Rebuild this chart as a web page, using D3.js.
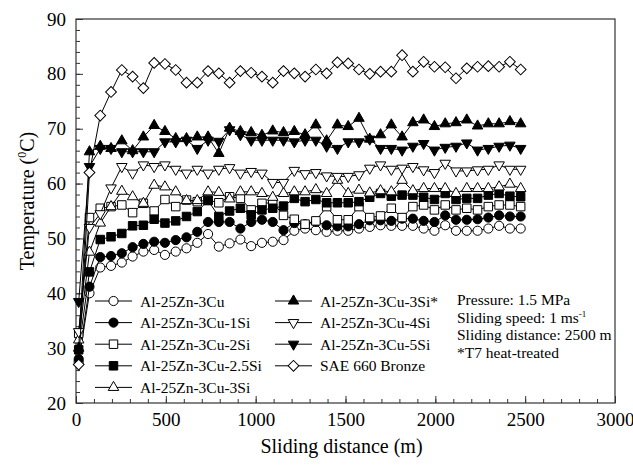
<!DOCTYPE html>
<html>
<head>
<meta charset="utf-8">
<script src="https://cdn.jsdelivr.net/npm/d3@7"></script>
<style>
  body { margin: 0; background: #fff; }
  svg text { font-family: "Liberation Serif", "Times New Roman", serif; fill: #000; }
</style>
</head>
<body>
<svg id="chart" width="633" height="465"></svg>
<script>
// sliding distance of each reading (m), one reading a minute at 1 m/s
var distances = d3.range(42).map(function(i) { return 15 + 60 * i; });

var seriesNames = ["Al-25Zn-3Cu", "Al-25Zn-3Cu-1Si", "Al-25Zn-3Cu-2Si", "Al-25Zn-3Cu-2.5Si",
  "Al-25Zn-3Cu-3Si", "Al-25Zn-3Cu-3Si*", "Al-25Zn-3Cu-4Si", "Al-25Zn-3Cu-5Si", "SAE 660 Bronze"];

var tempCu = [27.5, 40, 44.7, 45, 45.6, 46.7, 47.6, 47.9, 47, 47.6, 48.2, 49.2, 50.8, 48.5, 49.1, 49.8, 48.6, 49.2, 49.4, 49.7, 51.4,
  51.8, 51.5, 51.2, 51.4, 51.4, 51.8, 52.1, 52.4, 52.3, 52.3, 52.3, 51.8, 51.4, 52.4, 51.4, 51.4, 51.4, 51.8, 52.3, 51.8, 51.8];
var temp1Si = [28, 41.2, 46.6, 46.8, 47.3, 48.4, 49, 49.4, 49.2, 49.7, 50.2, 51.2, 53, 53, 53, 51.8, 53, 53.4, 53, 51.5, 52.8,
  52.6, 53, 52.4, 52.2, 52.2, 52.6, 53.3, 53.3, 53.2, 53.6, 53.6, 53.2, 53, 54.2, 53.4, 53.4, 53.5, 53.8, 54.2, 54, 54];
var temp2Si = [32.7, 53.8, 55.5, 55.8, 56.1, 54.7, 56.4, 55, 57.1, 55.8, 57, 56.7, 57, 56.5, 57.6, 57.3, 55.2, 56.4, 56.5, 54.2, 53.5,
  52.6, 53.2, 55.8, 53.4, 53.4, 55.8, 53.8, 54.1, 55.5, 53.8, 55.8, 56.1, 55.2, 56.1, 55.2, 55.5, 55.2, 55.8, 56.1, 56.1, 55.8];
var temp25Si = [29.7, 43.9, 49.8, 50.3, 50.9, 52.3, 52.4, 53.5, 52.8, 53.2, 54, 54.9, 56.9, 54, 55, 55.5, 54.3, 55.2, 55.5, 55.9, 57.3,
  56.7, 57.1, 56.5, 56.5, 56.5, 56.7, 57.5, 58.2, 57.7, 57.9, 57.9, 57.5, 57.1, 58.2, 57.1, 57.3, 57.3, 57.9, 58.2, 57.7, 57.6];
var temp3Si = [31.5, 47.5, 52.8, 55.8, 58.6, 57.6, 56.4, 59.7, 59.4, 58.5, 56.9, 56.9, 58.5, 58.4, 57.2, 58.5, 58.5, 58.2, 57.5, 58.2, 58.5,
  58.5, 58.9, 58.2, 60.6, 58.2, 58.8, 58.3, 58.7, 58.5, 60.6, 58.7, 59.1, 59.1, 59.1, 58.2, 59.1, 59.1, 59.1, 59.4, 59.9, 59.1];
var temp3SiT7 = [30, 65.8, 66.8, 66.4, 67.8, 66, 68.5, 70.6, 69.5, 68.2, 68.2, 68.5, 68.5, 65.5, 70.1, 69.5, 69.3, 68.8, 69.6, 69.3, 69.5,
  68.9, 70.7, 67.8, 70.7, 70.4, 71.9, 68.1, 68.9, 70.7, 68.5, 71.1, 71.6, 70.4, 70.9, 71.1, 71.6, 70.5, 70.9, 70.9, 71.3, 70.9];
var temp4Si = [33, 52, 54.5, 59.2, 63.1, 61.9, 63.4, 63.1, 63.4, 62.6, 61.9, 62.6, 61.9, 62.6, 62.9, 61.9, 62.2, 61.9, 60.2, 60.2, 62.4,
  61.8, 62, 61.4, 61.3, 61.3, 61.6, 62.8, 63.4, 62.6, 62.8, 63.1, 62.5, 62, 63.7, 62.3, 62.3, 62.5, 62.6, 63.4, 62.6, 62.6];
var temp5Si = [38.5, 63.1, 66.4, 66.4, 65.8, 65.8, 65.8, 65.8, 67.6, 67.6, 67.9, 66.4, 67.9, 67.7, 69.8, 68.9, 67.9, 67.9, 67.9, 67.9, 67.6,
  67.9, 67.9, 66.8, 66.4, 67.6, 67.6, 68.1, 66.4, 66.4, 66.1, 66.8, 67.3, 66.1, 66.6, 66.8, 67.4, 66.1, 66.4, 66.8, 67, 66.4];
var tempBronze = [27, 62, 72.4, 76.7, 80.7, 79.5, 77.4, 82, 81.8, 80.7, 78.4, 78.4, 80.5, 80.1, 78.4, 80.5, 80.2, 79.5, 78.4, 80.5, 80.1,
  79.5, 80.8, 80.1, 82.1, 81.9, 80.8, 80, 80.4, 80.4, 83.4, 80.4, 82.2, 81.3, 81.2, 79.2, 81, 81.3, 81.4, 81.3, 82.2, 80.8];

var xTicks = [0, 500, 1000, 1500, 2000, 2500, 3000];
var yTicks = [20, 30, 40, 50, 60, 70, 80, 90];
var notes = ["Pressure: 1.5 MPa", "Sliding speed: 1 ms", "Sliding distance: 2500 m", "*T7 heat-treated"];

var allTemps = [tempCu, temp1Si, temp2Si, temp25Si, temp3Si, temp3SiT7, temp4Si, temp5Si, tempBronze];
var markers = [
  { type: d3.symbolCircle, size: 66, fill: "#fff", rot: 0 },
  { type: d3.symbolCircle, size: 66, fill: "#000", rot: 0 },
  { type: d3.symbolSquare, size: 72, fill: "#fff", rot: 0 },
  { type: d3.symbolSquare, size: 72, fill: "#000", rot: 0 },
  { type: d3.symbolTriangle, size: 48, fill: "#fff", rot: 0 },
  { type: d3.symbolTriangle, size: 48, fill: "#000", rot: 0 },
  { type: d3.symbolTriangle, size: 48, fill: "#fff", rot: 180 },
  { type: d3.symbolTriangle, size: 48, fill: "#000", rot: 180 },
  { type: d3.symbolSquare, size: 58, fill: "#fff", rot: 45 }
];

var margin = { left: 76, top: 19, right: 18, bottom: 62 };
var svg = d3.select("#chart");
var w = 633 - margin.left - margin.right;
var h = 465 - margin.top - margin.bottom;

var x = d3.scaleLinear().domain([0, 3000]).range([0, w]);
var y = d3.scaleLinear().domain([20, 90]).range([h, 0]);

var g = svg.append("g").attr("transform", "translate(" + margin.left + "," + margin.top + ")");

// frame
g.append("rect").attr("width", w).attr("height", h)
  .attr("fill", "none").attr("stroke", "#333").attr("stroke-width", 1.2);

// inward ticks
var xAxis = g.append("g").attr("transform", "translate(0," + h + ")")
  .call(d3.axisBottom(x).tickValues(d3.range(0, 3001, 100)).tickSize(-4).tickFormat(""));
var xMajor = g.append("g").attr("transform", "translate(0," + h + ")")
  .call(d3.axisBottom(x).tickValues(xTicks).tickSize(-7).tickPadding(10).tickFormat(d3.format("d")));
var yAxis = g.append("g")
  .call(d3.axisLeft(y).tickValues(d3.range(20, 91, 2)).tickSize(-4).tickFormat(""));
var yMajor = g.append("g")
  .call(d3.axisLeft(y).tickValues(yTicks).tickSize(-7).tickPadding(10).tickFormat(d3.format("d")));

[xAxis, xMajor, yAxis, yMajor].forEach(function(a) {
  a.select(".domain").remove();
  a.selectAll("line").attr("stroke", "#333");
  a.selectAll("text").attr("font-size", 19).attr("font-family", "Liberation Serif").attr("fill", "#000");
});

function symbolPath(m) {
  return d3.symbol().type(m.type).size(m.size)();
}

var line = d3.line()
  .x(function(d) { return x(d[0]); })
  .y(function(d) { return y(d[1]); });

allTemps.forEach(function(temps, k) {
  var pts = distances.map(function(d, i) { return [d, temps[i]]; });
  var m = markers[k];
  var s = g.append("g");
  s.append("path").datum(pts).attr("d", line)
    .attr("fill", "none").attr("stroke", "#000").attr("stroke-width", 1);
  s.selectAll("path.pt").data(pts).enter().append("path")
    .attr("class", "pt")
    .attr("d", symbolPath(m))
    .attr("transform", function(d) { return "translate(" + x(d[0]) + "," + y(d[1]) + ") rotate(" + m.rot + ")"; })
    .attr("fill", m.fill).attr("stroke", "#000").attr("stroke-width", 1);
});

// legend, two columns
var legend = svg.append("g");
seriesNames.forEach(function(name, k) {
  var col = k < 5 ? 0 : 1;
  var row = k < 5 ? k : k - 5;
  var lx = col === 0 ? 95 : 275;
  var ly = 301 + row * 21.6;
  var m = markers[k];
  var item = legend.append("g").attr("transform", "translate(" + lx + "," + ly + ")");
  item.append("line").attr("x1", 0).attr("x2", 37).attr("y1", 0).attr("y2", 0)
    .attr("stroke", "#000").attr("stroke-width", 1);
  item.append("path").attr("d", symbolPath(m))
    .attr("transform", "translate(18.5,0) rotate(" + m.rot + ")")
    .attr("fill", m.fill).attr("stroke", "#000");
  item.append("text").attr("x", 45).attr("y", 5.5).attr("font-size", 15.5).text(name);
});

// test conditions
var noteG = svg.append("g");
notes.forEach(function(t, i) {
  var tx = noteG.append("text").attr("x", 457).attr("y", 305 + i * 17.5).attr("font-size", 15.5).text(t);
  if (i === 1) {
    tx.append("tspan").attr("dy", -6).attr("font-size", 9).text("-1");
  }
});

// axis titles
svg.append("text").attr("x", margin.left + w / 2 - 4).attr("y", 453)
  .attr("text-anchor", "middle").attr("font-size", 20).text("Sliding distance (m)");

var yt = svg.append("text").attr("transform", "translate(34,201) rotate(-90)")
  .attr("text-anchor", "middle").attr("font-size", 20);
yt.append("tspan").text("Temperature (");
yt.append("tspan").attr("dy", -8).attr("font-size", 12).text("0");
yt.append("tspan").attr("dy", 8).text("C)");
</script>
</body>
</html>
